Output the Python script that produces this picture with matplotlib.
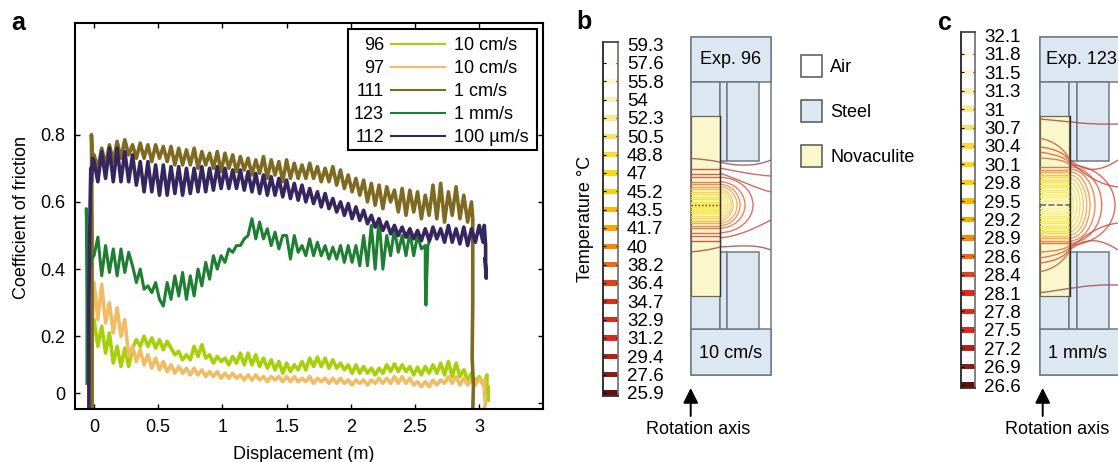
import matplotlib
matplotlib.use('Agg')
import matplotlib.pyplot as plt
from matplotlib.patches import Rectangle, PathPatch
from matplotlib.path import Path

plt.rcParams['font.family'] = ['Liberation Sans', 'DejaVu Sans']
plt.rcParams['font.size'] = 13

W, H = 1118, 462

# displacement samples shared by the friction curves
DISP = [0.00, 0.03, 0.06, 0.09, 0.12, 0.15, 0.18, 0.21, 0.24, 0.27,
        0.30, 0.33, 0.36, 0.39, 0.42, 0.45, 0.48, 0.51, 0.54, 0.57,
        0.60, 0.63, 0.66, 0.69, 0.72, 0.75, 0.78, 0.81, 0.84, 0.87,
        0.90, 0.93, 0.96, 0.99, 1.02, 1.05, 1.08, 1.11, 1.14, 1.17,
        1.20, 1.23, 1.26, 1.29, 1.32, 1.35, 1.38, 1.41, 1.44, 1.47,
        1.50, 1.53, 1.56, 1.59, 1.62, 1.65, 1.68, 1.71, 1.74, 1.77,
        1.80, 1.83, 1.86, 1.89, 1.92, 1.95, 1.98, 2.01, 2.04, 2.07,
        2.10, 2.13, 2.16, 2.19, 2.22, 2.25, 2.28, 2.31, 2.34, 2.37,
        2.40, 2.43, 2.46, 2.49, 2.52, 2.55, 2.58, 2.61, 2.64, 2.67,
        2.70, 2.73, 2.76, 2.79, 2.82, 2.85, 2.88, 2.91, 2.94, 2.97,
        3.00, 3.03]

mu_96 = [.25, .17, .23, .15, .21, .12, .17, .11, .165, .11,
         .165, .19, .17, .20, .17, .195, .165, .19, .16, .185,
         .165, .145, .155, .13, .145, .13, .17, .14, .175, .135,
         .145, .12, .14, .125, .135, .115, .14, .12, .15, .115,
         .15, .115, .145, .11, .135, .105, .13, .10, .125, .09,
         .12, .095, .115, .10, .125, .10, .135, .11, .138, .11,
         .135, .105, .13, .105, .12, .10, .115, .09, .115, .09,
         .11, .09, .105, .085, .105, .09, .115, .095, .118, .095,
         .115, .095, .11, .085, .108, .085, .11, .09, .115, .09,
         .12, .085, .125, .08, .12, .08, .10, .07, .09, .065,
         .08, .06]
mu_97 = [.36, .25, .355, .24, .30, .21, .285, .20, .25, .14,
         .17, .125, .16, .115, .145, .105, .135, .10, .125, .095,
         .115, .09, .11, .09, .105, .085, .105, .085, .10, .08,
         .095, .08, .095, .075, .09, .075, .09, .075, .085, .07,
         .085, .07, .085, .07, .08, .065, .08, .07, .08, .065,
         .08, .065, .08, .065, .075, .065, .08, .06, .075, .065,
         .075, .06, .075, .06, .075, .06, .07, .055, .07, .06,
         .07, .055, .07, .06, .075, .06, .075, .06, .08, .06,
         .08, .06, .075, .055, .065, .05, .065, .05, .07, .055,
         .07, .06, .08, .06, .08, .055, .075, .055, .07, .055,
         .075, .055]
mu_111 = [.74, .70, .76, .71, .77, .72, .78, .73, .785, .74,
          .77, .73, .775, .73, .77, .72, .77, .73, .765, .72,
          .765, .71, .76, .71, .755, .71, .76, .70, .75, .71,
          .745, .70, .75, .69, .745, .70, .74, .69, .735, .695,
          .73, .68, .725, .685, .735, .67, .725, .68, .72, .66,
          .725, .67, .715, .67, .71, .67, .715, .67, .705, .66,
          .70, .66, .705, .65, .695, .64, .68, .63, .67, .62,
          .665, .60, .655, .59, .65, .58, .645, .60, .635, .57,
          .64, .56, .635, .57, .63, .55, .62, .56, .65, .55,
          .655, .54, .63, .56, .645, .55, .62, .54, .60]
mu_123 = [.44, .495, .38, .47, .39, .46, .38, .46, .39, .45,
          .41, .36, .40, .34, .35, .33, .36, .31, .29, .36,
          .31, .38, .32, .39, .31, .38, .32, .40, .35, .42,
          .37, .44, .40, .44, .42, .46, .45, .47, .47, .49,
          .50, .55, .49, .54, .49, .52, .47, .51, .46, .50,
          .50, .43, .50, .45, .47, .44, .49, .44, .48, .44,
          .47, .43, .465, .43, .47, .42, .47, .42, .47, .41,
          .50, .41, .53, .40, .55, .40, .50, .44, .52, .45,
          .50, .44, .51, .44, .50, .46]
mu_112 = [.72, .66, .75, .67, .76, .66, .76, .66, .75, .66,
          .74, .65, .72, .63, .72, .63, .71, .62, .71, .62,
          .705, .625, .705, .62, .70, .625, .70, .63, .705, .63,
          .70, .635, .705, .64, .70, .64, .695, .64, .695, .635,
          .69, .63, .685, .625, .68, .62, .675, .62, .67, .615,
          .665, .61, .655, .605, .65, .60, .64, .595, .63, .585,
          .625, .58, .61, .57, .60, .56, .595, .55, .585, .545,
          .575, .535, .56, .525, .55, .515, .54, .505, .53, .50,
          .525, .495, .52, .49, .515, .485, .52, .485, .525, .49,
          .52, .48, .53, .48, .52, .475, .525, .47, .52, .48,
          .53, .48]

# run-in and run-out of each test, (x, y)
start_96 = ([-.02, -.02, -.01], [-.02, .12, .25])
end_96 = ([3.04, 3.06, 3.06, 3.07, 3.07], [.06, .085, .03, .05, .01])
start_97 = ([-.015, -.015, -.005], [-.02, .2, .36])
end_97 = ([3.04, 3.04, 3.05, 3.035], [.07, .03, 0, -.02])
start_111 = ([-.015, -.015, -.02, -.01], [-.02, .5, .80, .70])
end_111 = ([2.95, 2.95, 2.945, 2.955, 2.95], [.55, .30, .14, .05, -.02])
start_123 = ([-.055, -.055, -.06, -.05, -.04, -.02], [.06, .32, .58, .45, .40, .43])
end_123 = ([2.58, 2.58, 2.585, 2.59, 2.60, 2.63], [.47, .38, .293, .36, .47, .50])
start_112 = ([-.04, -.04, -.03, -.025, -.02, -.01], [-.02, .3, .60, .70, .66, .73])
end_112 = ([3.04, 3.05, 3.05, 3.055, 3.045], [.53, .47, .42, .373, .43])

curves = [
    ('96', '10 cm/s', mu_96, start_96, end_96, '#a8d008'),
    ('97', '10 cm/s', mu_97, start_97, end_97, '#f0bc64'),
    ('111', '1 cm/s', mu_111, start_111, end_111, '#7f6a22'),
    ('123', '1 mm/s', mu_123, start_123, end_123, '#1e7f33'),
    ('112', '100 µm/s', mu_112, start_112, end_112, '#36265f'),
]

# colour bar levels
temps_b = ['59.3', '57.6', '55.8', '54', '52.3', '50.5', '48.8', '47', '45.2', '43.5',
           '41.7', '40', '38.2', '36.4', '34.7', '32.9', '31.2', '29.4', '27.6', '25.9']
temps_c = ['32.1', '31.8', '31.5', '31.3', '31', '30.7', '30.4', '30.1', '29.8', '29.5',
           '29.2', '28.9', '28.6', '28.4', '28.1', '27.8', '27.5', '27.2', '26.9', '26.6']
level_colors = ['#ffffff', '#fefbe6', '#fef6cf', '#fef0b0', '#fde98a', '#fde060', '#fcdb30',
                '#fbd910', '#fbd300', '#fbb800', '#fba600', '#f58a00', '#ee6a10', '#e5401a',
                '#e02a1a', '#df2a1e', '#d62a22', '#b22318', '#8f1c12', '#6b0f0a']

# isotherms, half height at the rock edge and how far the loop reaches
iso_b_half = [27.7, 23.3, 20.7, 18.3, 15.7, 13.3, 11, 8.3, 5.7, 3.5]
iso_b_tip = [753, 745, 740, 737, 733, 731, 728, 725, 722, 721]
iso_b_rock = [36, 31, 27.7, 23.3, 20.7, 18.3, 15.7, 13.3, 11, 8.3, 5.7, 3.5, 2, 1]
iso_c_half = [40, 38.3, 36, 33.3, 30, 26.7, 22.7, 18.3, 13.3, 8.3]
iso_c_tip = [1115, 1101.7, 1095, 1090, 1086.7, 1083.3, 1080, 1076.7, 1073.3, 1071]
iso_c_rock = [38, 35.5, 33, 30.5, 28, 25.5, 23, 20.5, 18, 15.5, 13, 10.5, 8, 5.5, 3]

fig = plt.figure(figsize=(W / 100, H / 100), dpi=100)


def px_axes(x0, y0, x1, y1):
    return fig.add_axes([x0 / W, 1 - y1 / H, (x1 - x0) / W, (y1 - y0) / H])


# panel a
ax = px_axes(75, 23, 543, 409)
for name, speed, mu, start, end, col in curves:
    n = min(len(DISP), len(mu))
    xs = start[0] + DISP[:n] + end[0]
    ys = start[1] + mu[:n] + end[1]
    ax.plot(xs, ys, color=col, lw=2.6 if name != '123' else 2.2, solid_joinstyle='round')
ax.set_xlim(-.148, 3.497)
ax.set_ylim(-.0164, 1.1325)
ax.set_xticks([0, .5, 1, 1.5, 2, 2.5, 3])
ax.set_xticklabels(['0', '0.5', '1', '1.5', '2', '2.5', '3'])
# the 0 label sits above the true zero in the original figure
ax.set_yticks([.031, .2, .4, .6, .8])
ax.set_yticklabels(['0', '0.2', '0.4', '0.6', '0.8'])
ax.tick_params(direction='in', length=3.6, width=1, top=True, pad=7)
ax.set_xlabel('Displacement (m)', va='center')
ax.xaxis.set_label_coords(.489, -.119)
ax.set_ylabel('Coefficient of friction', va='center')
ax.yaxis.set_label_coords(-.114, .497)
for s in ax.spines.values():
    s.set_linewidth(1.5)

ax2 = ax.twinx()
ax2.set_ylim(ax.get_ylim())
ax2.set_yticks([0, .2, .4, .6, .8])
ax2.tick_params(direction='in', length=3.6, width=1, labelright=False)
for s in ax2.spines.values():
    s.set_visible(False)


def colour_bar(x0, y0, x1, y1, first, last, labels):
    cb = px_axes(x0, y0, x1, y1)
    step = (last[1] - first[1]) / 18
    cb.set_ylim(19 + (y1 - last[1]) / step, 1 - (first[1] - y0) / step)
    cb.set_xlim(0, 1)
    for i, c in enumerate(level_colors):
        cb.barh(i, 1, height=.3, color=c, linewidth=0)
    cb.set_xticks([])
    cb.set_yticks(range(20))
    cb.set_yticklabels(labels, fontsize=13.5)
    cb.tick_params(axis='y', direction='in', length=1.8, width=.8, left=True, right=True,
                   labelleft=False, labelright=True, pad=6.5)
    cb.yaxis.get_major_ticks()[0].tick1line.set_visible(False)
    cb.yaxis.get_major_ticks()[0].tick2line.set_visible(False)
    cb.spines['left'].set_color('#222222')
    cb.spines['right'].set_color('#777777')
    cb.spines['top'].set_color('#444444')
    cb.spines['bottom'].set_color('#333333')
    for s in cb.spines.values():
        s.set_linewidth(1.3)
    return cb


colour_bar(603, 42, 618, 396, (0, 63), (0, 393), temps_b)
colour_bar(961, 32, 975, 388, (0, 54), (0, 385), temps_c)

# everything else is laid out in figure pixels
ov = fig.add_axes([0, 0, 1, 1], zorder=5)
ov.set_xlim(0, W)
ov.set_ylim(H, 0)
ov.axis('off')
ov.patch.set_alpha(0)

# legend of panel a
ov.add_patch(Rectangle((347.5, 29), 189.5, 121, fc='white', ec='black', lw=1.5, zorder=3))
for i, (name, speed, mu, start, end, col) in enumerate(curves):
    y = 44 + 23 * i
    ov.text(384, y + 1.5, name, ha='right', va='center', zorder=4)
    ov.plot([391, 445], [y, y], color=col, lw=1.5, zorder=4)
    ov.text(454, y + 1.5, speed, ha='left', va='center', zorder=4)

STEEL = '#dde7f2'
ROCK = '#fbf7cc'
EDGE = '#6d7a85'


def box(x0, y0, x1, y1, fc=STEEL, ec=EDGE, lw=1.1, z=1):
    ov.add_patch(Rectangle((x0, y0), x1 - x0, y1 - y0, fc=fc, ec=ec, lw=lw, zorder=z))


def cell(ox, top, bottom, top_x, bot_x):
    box(ox, 37, ox + 80.5, 375, fc='white')
    box(ox, 37, ox + 80.5, 82, z=1.2)
    box(ox, 329, ox + 80.5, 375, z=1.2)
    box(ox, 82, ox + 29, 329, z=1.2)
    box(ox + 29, 82, ox + 36.5, 161, z=1.2)
    box(ox + 36.5, 82, ox + 68.5, 161, z=1.2)
    box(ox + 29, 252, ox + 36.5, 329, z=1.2)
    box(ox + 36.5, 252, ox + 68.5, 329, z=1.2)
    box(ox, 116, ox + 29, 296, fc=ROCK, ec='#6a6a48', lw=.9, z=1.3)
    ov.text(top_x, 59.5, top, ha='center', va='center', zorder=6)
    ov.text(bot_x, 353, bottom, ha='center', va='center', zorder=6)


def curve(pts, col, lw=1.0):
    codes = [Path.MOVETO] + [Path.CURVE4] * (len(pts) - 1)
    ov.add_patch(PathPatch(Path(pts, codes), fc='none', ec=col, lw=lw, zorder=2, alpha=.85))


def loop(x0, yc, half, tip, col):
    a = tip - x0
    curve([(x0, yc - half), (x0 + .55 * a, yc - half), (tip, yc - .55 * half), (tip, yc),
           (tip, yc + .55 * half), (x0 + .55 * a, yc + half), (x0, yc + half)], col)


cell(690.5, 'Exp. 96', '10 cm/s', 731, 731)
cell(1040, 'Exp. 123', '1 mm/s', 1081, 1078)

# isotherms, panel b
yc = 205
ramp_b = ['#b8484a', '#cf4f45', '#dc5b42', '#e56c42', '#ec8448', '#f0a24c', '#f4bc48', '#f8d040',
          '#fbdd34', '#fbe22c', '#fbe428', '#fbe628', '#fbe838', '#fbea48']
for off, col in zip(iso_b_rock, ramp_b):
    ov.plot([690.5, 719.5], [yc - off, yc - off], color=col, lw=1.0, alpha=.9, zorder=2)
    ov.plot([690.5, 719.5], [yc + off, yc + off], color=col, lw=1.0, alpha=.9, zorder=2)
for half, tip, col in zip(iso_b_half, iso_b_tip, ramp_b[2:]):
    loop(719.5, yc, half, tip, col)
curve([(690.5, 158.5), (700, 159), (710, 160), (719.5, 162)], '#a2504a')
curve([(719.5, 162), (735, 166), (755, 167), (771, 160)], '#a2504a')
curve([(690.5, 252), (700, 251), (710, 250), (719.5, 247)], '#a2504a')
curve([(719.5, 247), (740, 246), (755, 244), (771, 250)], '#a2504a')
curve([(719.5, 168), (740, 172), (755, 175), (771, 176)], '#c2524a')
curve([(719.5, 173), (740, 180), (755, 188), (771, 192)], '#c8504a')
curve([(719.5, 238), (740, 236), (755, 228), (771, 220)], '#c8504a')
ov.plot([690.5, 719.5], [yc, yc], color='#333333', lw=.9, ls=(0, (1.2, 1.6)), zorder=3)
ov.plot([719.5, 719.5], [116, 296], color='#333333', lw=1, zorder=3)

# isotherms, panel c
ramp_c = ['#e8663a', '#ee8040', '#f4a040', '#f8bc3c', '#fbd23c', '#fbdd38', '#fbe234', '#fbe63a',
          '#fbe840', '#fbea4c', '#fbec58', '#fbee68', '#fbf078', '#fbf28a', '#fbf49a']
for off, col in zip(iso_c_rock, ramp_c):
    ov.plot([1040, 1069.5], [yc - off, yc - off], color=col, lw=1.0, alpha=.9, zorder=2)
    ov.plot([1040, 1069.5], [yc + off, yc + off], color=col, lw=1.0, alpha=.9, zorder=2)
ramp_loop = ['#e0503c', '#e65c3c', '#ec7440', '#f08c42', '#f4a444', '#f8c040', '#fbd440', '#fbe040',
             '#fbe650', '#fbea60']
for half, tip, col in zip(iso_c_half, iso_c_tip, ramp_loop):
    loop(1069.5, yc, half, tip, col)
for sgn in [1, -1]:
    curve([(1040, yc - sgn * 66.7), (1055, yc - sgn * 64), (1065, yc - sgn * 55), (1070, yc - sgn * 45)], '#c4603c')
    curve([(1040, yc - sgn * 58), (1058, yc - sgn * 56), (1066, yc - sgn * 50), (1070, yc - sgn * 44)], '#d8583c')
    curve([(1040, yc - sgn * 53), (1058, yc - sgn * 50), (1066, yc - sgn * 47), (1070, yc - sgn * 42)], '#e0603c')
    curve([(1040, yc - sgn * 47), (1058, yc - sgn * 46), (1066, yc - sgn * 44), (1070, yc - sgn * 40)], '#e66c3c')
    curve([(1070, yc - sgn * 45), (1085, yc - sgn * 32), (1100, yc - sgn * 33), (1118, yc - sgn * 45)], '#c8503c')
    curve([(1070, yc - sgn * 43), (1085, yc - sgn * 30), (1100, yc - sgn * 20), (1118, yc - sgn * 18)], '#c8503c')
curve([(1040, 119), (1065, 121), (1085, 125), (1118, 124)], '#a2504a')
curve([(1040, 292.7), (1065, 290), (1085, 284), (1118, 285)], '#a2504a')
ov.plot([1040, 1069.5], [yc, yc], color='#666655', lw=1.1, ls=(0, (4, 1.5)), zorder=3)
ov.plot([1069.5, 1069.5], [116, 296], color='#333333', lw=1, zorder=3)

# material key
for y, fc, lab in [(66, 'white', 'Air'), (111, STEEL, 'Steel'), (156, ROCK, 'Novaculite')]:
    box(801, y - 11, 822, y + 11, fc=fc, ec='#555555')
    ov.text(830, y + 1.5, lab, ha='left', va='center')

# rotation axis arrows
for xa, xt in [(690.7, 698), (1042.7, 1057)]:
    ov.annotate('', xy=(xa, 388), xytext=(xa, 416),
                arrowprops=dict(arrowstyle='-|>,head_width=.35,head_length=.7', color='black', lw=1.4,
                                shrinkA=0, shrinkB=0))
    ov.text(xt, 429, 'Rotation axis', ha='center', va='center')

ov.text(586, 219, 'Temperature °C', rotation=90, ha='center', va='center')
ov.text(11, 23, 'a', fontsize=18, fontweight='bold', ha='left', va='center')
ov.text(576, 22, 'b', fontsize=18, fontweight='bold', ha='left', va='center')
ov.text(938, 23, 'c', fontsize=18, fontweight='bold', ha='left', va='center')

fig.savefig('out.png', dpi=100)
